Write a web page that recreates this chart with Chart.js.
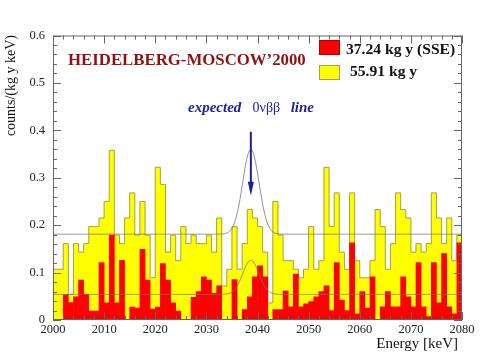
<!DOCTYPE html>
<html>
<head>
<meta charset="utf-8">
<script src="https://cdn.jsdelivr.net/npm/chart.js@4.4.0/dist/chart.umd.min.js"></script>
<style>
html, body { margin: 0; padding: 0; background: #fff; }
#wrap { width: 498px; height: 356px; }
</style>
</head>
<body>
<div id="wrap"><canvas id="hm"></canvas></div>
<script>
// energy bins: 1 keV wide, from 2000 keV
var firstBin = 2000;
var lastEdge = 2080;

// counts/(kg y keV), full data set 55.91 kg y
var fullData = [
  0.107, 0.107, 0.161, 0.054, 0.161, 0.143, 0.161, 0.197, 0.197, 0.215,
  0.250, 0.358, 0.179, 0.161, 0.215, 0.268, 0.179, 0.250, 0.179, 0.089,
  0.322, 0.286, 0.143, 0.179, 0.125, 0.197, 0.161, 0.179, 0.161, 0.161,
  0.179, 0.143, 0.215, 0.072, 0.107, 0.197, 0.107, 0.161, 0.233, 0.215,
  0.197, 0.143, 0.036, 0.250, 0.179, 0.125, 0.125, 0.107, 0.089, 0.107,
  0.197, 0.107, 0.125, 0.322, 0.197, 0.268, 0.143, 0.107, 0.268, 0.125,
  0.089, 0.089, 0.125, 0.233, 0.197, 0.107, 0.161, 0.268, 0.233, 0.215,
  0.143, 0.161, 0.143, 0.161, 0.268, 0.215, 0.161, 0.215, 0.125, 0.179
];

// single site events, 37.24 kg y
var sseData = [
  0.000, 0.000, 0.054, 0.037, 0.049, 0.084, 0.054, 0.019, 0.019, 0.121,
  0.036, 0.179, 0.036, 0.126, 0.000, 0.027, 0.025, 0.149, 0.084, 0.023,
  0.027, 0.119, 0.084, 0.036, 0.019, 0.000, 0.000, 0.048, 0.060, 0.091,
  0.084, 0.056, 0.072, 0.000, 0.000, 0.085, 0.000, 0.022, 0.049, 0.091,
  0.114, 0.091, 0.000, 0.022, 0.022, 0.061, 0.028, 0.097, 0.028, 0.034,
  0.039, 0.049, 0.060, 0.072, 0.020, 0.121, 0.042, 0.020, 0.163, 0.013,
  0.060, 0.025, 0.091, 0.000, 0.028, 0.060, 0.028, 0.028, 0.091, 0.049,
  0.028, 0.121, 0.028, 0.007, 0.121, 0.036, 0.140, 0.028, 0.013, 0.163
];

// expected line: position, width, and [background, height] for each set
var lineE = 2038.7;
var lineSigma = 1.6;
var fullLine = [0.181, 0.179];
var sseLine = [0.054, 0.072];

var legendLabels = ['37.24 kg y (SSE)', '55.91 kg y'];

var serif = '"Liberation Serif", "DejaVu Serif", serif';

function bars(vals) {
  return vals.map(function (v, i) { return { x: firstBin + i + 0.5, y: v }; });
}
function outline(vals) {
  var pts = vals.map(function (v, i) { return { x: firstBin + i, y: v }; });
  pts.push({ x: lastEdge, y: vals[vals.length - 1] });
  return pts;
}
function gaussCurve(p) {
  var pts = [];
  for (var e = firstBin; e <= lastEdge + 0.001; e += 0.2) {
    var d = (e - lineE) / lineSigma;
    pts.push({ x: e, y: p[0] + p[1] * Math.exp(-0.5 * d * d) });
  }
  return pts;
}

var decor = {
  id: 'decor',
  afterDatasetsDraw: function (chart) {
    var ctx = chart.ctx, a = chart.chartArea;
    var xs = chart.scales.x, ys = chart.scales.y;
    ctx.save();

    // frame with inward ticks
    ctx.strokeStyle = '#666';
    ctx.lineWidth = 1;
    ctx.strokeRect(a.left + 0.5, a.top + 0.5, a.right - a.left - 1, a.bottom - a.top - 1);
    ctx.beginPath();
    for (var e = firstBin; e <= lastEdge; e += 2) {
      var px = Math.round(xs.getPixelForValue(e)) + 0.5;
      var len = (e % 10 === 0) ? 8 : 4;
      ctx.moveTo(px, a.bottom); ctx.lineTo(px, a.bottom - len);
      ctx.moveTo(px, a.top); ctx.lineTo(px, a.top + len);
    }
    for (var k = 0; k <= 30; k++) {
      var py = Math.round(ys.getPixelForValue(k * 0.02)) + 0.5;
      var l2 = (k % 5 === 0) ? 8 : 4;
      ctx.moveTo(a.left, py); ctx.lineTo(a.left + l2, py);
      ctx.moveTo(a.right, py); ctx.lineTo(a.right - l2, py);
    }
    ctx.stroke();

    // arrow to the expected line
    var ax = xs.getPixelForValue(lineE);
    var y0 = ys.getPixelForValue(0.397), y1 = ys.getPixelForValue(0.262);
    ctx.strokeStyle = '#1f1f9e';
    ctx.fillStyle = '#1f1f9e';
    ctx.lineWidth = 2;
    ctx.beginPath();
    ctx.moveTo(ax, y0); ctx.lineTo(ax, y1 - 10);
    ctx.stroke();
    ctx.beginPath();
    ctx.moveTo(ax, y1);
    ctx.lineTo(ax - 3, y1 - 14);
    ctx.lineTo(ax + 3, y1 - 14);
    ctx.closePath();
    ctx.fill();

    // label above the arrow
    var parts = [
      { t: 'expected', f: 'italic bold 15px ' + serif },
      { t: '   ', f: 'bold 15px ' + serif },
      { t: '0\u03bd\u03b2\u03b2', f: '14px ' + serif },
      { t: '   ', f: 'bold 14px ' + serif },
      { t: 'line', f: 'italic bold 15px ' + serif }
    ];
    var w = 0;
    parts.forEach(function (p) { ctx.font = p.f; p.w = ctx.measureText(p.t).width; w += p.w; });
    var tx = 251 - w / 2;
    ctx.fillStyle = '#22229a';
    ctx.textBaseline = 'alphabetic';
    ctx.textAlign = 'left';
    parts.forEach(function (p) { ctx.font = p.f; ctx.fillText(p.t, tx, 112); tx += p.w; });

    // title
    ctx.font = 'bold 16.8px ' + serif;
    ctx.fillStyle = '#8e1212';
    ctx.fillText('HEIDELBERG-MOSCOW\u20192000', 68, 65);

    // legend
    ctx.lineWidth = 1;
    ctx.fillStyle = '#ff0000';
    ctx.fillRect(319, 40, 20, 14);
    ctx.strokeStyle = '#b00000';
    ctx.strokeRect(319.5, 40.5, 20, 14);
    ctx.fillStyle = '#ffff00';
    ctx.fillRect(319, 65, 20, 14);
    ctx.strokeStyle = '#a0a050';
    ctx.strokeRect(319.5, 65.5, 20, 14);
    ctx.fillStyle = '#111';
    ctx.font = 'bold 15.6px ' + serif;
    ctx.fillText(legendLabels[0], 346, 54);
    ctx.fillText(legendLabels[1], 350, 76);

    // axis titles
    ctx.font = '15px ' + serif;
    ctx.fillStyle = '#111';
    ctx.textAlign = 'right';
    ctx.fillText('Energy [keV]', 458, 348);
    ctx.translate(11, 35);
    ctx.rotate(-Math.PI / 2);
    ctx.textBaseline = 'middle';
    ctx.font = '14px ' + serif;
    ctx.fillText('counts/(kg y keV)', 0, 0);
    ctx.restore();
  }
};

new Chart(document.getElementById('hm'), {
  type: 'bar',
  data: {
    datasets: [
      {
        type: 'line', data: gaussCurve(fullLine), borderColor: '#777', borderWidth: 0.8,
        pointRadius: 0, fill: false, order: 0
      },
      {
        type: 'line', data: gaussCurve(sseLine), borderColor: '#777', borderWidth: 0.8,
        pointRadius: 0, fill: false, order: 0
      },
      {
        label: legendLabels[0], data: bars(sseData), backgroundColor: '#ff0000',
        borderWidth: 0, order: 1
      },
      {
        type: 'line', data: outline(fullData), stepped: 'before', borderColor: '#a3a352',
        borderWidth: 1, pointRadius: 0, fill: false, order: 2
      },
      {
        label: legendLabels[1], data: bars(fullData), backgroundColor: '#ffff00',
        borderWidth: 0, order: 3
      }
    ]
  },
  options: {
    responsive: true,
    maintainAspectRatio: false,
    animation: false,
    layout: { padding: { top: 35.5, right: 36, left: 0, bottom: 0 } },
    datasets: { bar: { barPercentage: 1, categoryPercentage: 1, grouped: false } },
    plugins: { legend: { display: false }, tooltip: { enabled: false } },
    scales: {
      x: {
        type: 'linear', min: firstBin, max: lastEdge, offset: false,
        grid: { display: false, drawTicks: false }, border: { display: false },
        ticks: {
          stepSize: 10, padding: 2, color: '#222', maxRotation: 0,
          font: { family: serif, size: 12.5 },
          callback: function (v) { return String(v); }
        },
        afterFit: function (s) { s.height = 36; }
      },
      y: {
        min: 0, max: 0.6,
        grid: { display: false, drawTicks: false }, border: { display: false },
        ticks: {
          stepSize: 0.1, padding: 8, color: '#222',
          font: { family: serif, size: 12.5 }
        },
        afterFit: function (s) { s.width = 53; }
      }
    }
  },
  plugins: [decor]
});
</script>
</body>
</html>
